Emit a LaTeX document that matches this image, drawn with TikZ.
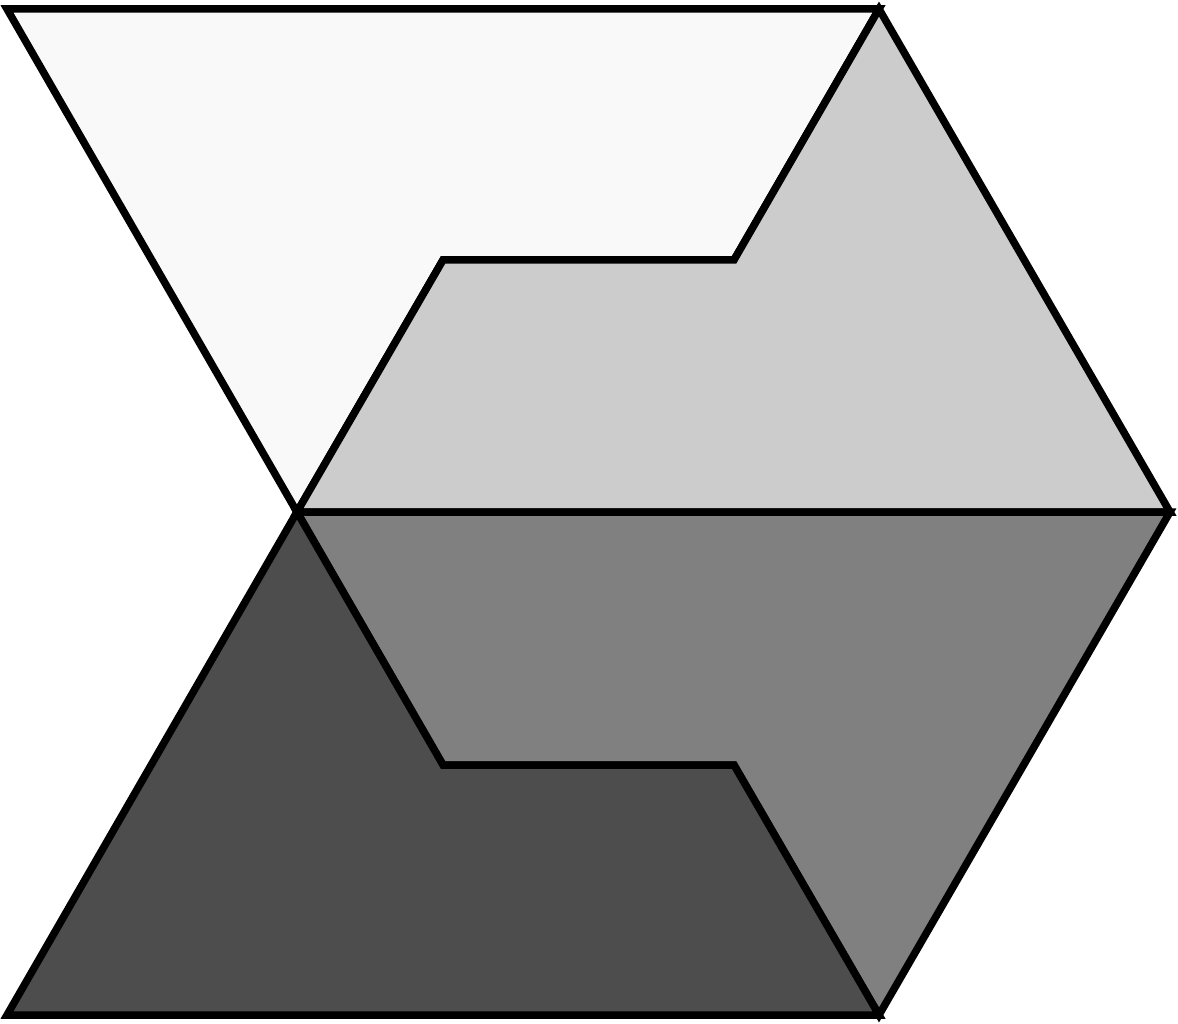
\documentclass[tikz,border=0pt]{standalone}
\begin{document}
\begin{tikzpicture}[x=1pt,y=-1pt,
  piece/.style={draw=black,line width=7.5pt,line join=miter}]
\useasboundingbox (0,0) rectangle (1178,1024);
\coordinate (TL) at (7,9);
\coordinate (TR) at (879,9);
\coordinate (R) at (1170,512);
\coordinate (C) at (297,512);
\coordinate (BL) at (7,1015);
\coordinate (BR) at (879,1015);
\coordinate (U1) at (443,260);
\coordinate (U2) at (734,260);
\coordinate (L1) at (443,765);
\coordinate (L2) at (734,765);
\filldraw[piece,fill={rgb,255:red,249;green,249;blue,249}] (TL) -- (TR) -- (U2) -- (U1) -- (C) -- cycle;
\filldraw[piece,fill={rgb,255:red,204;green,204;blue,204}] (C) -- (U1) -- (U2) -- (TR) -- (R) -- cycle;
\filldraw[piece,fill={rgb,255:red,128;green,128;blue,128}] (C) -- (R) -- (BR) -- (L2) -- (L1) -- cycle;
\filldraw[piece,fill={rgb,255:red,77;green,77;blue,77}] (C) -- (L1) -- (L2) -- (BR) -- (BL) -- cycle;
\end{tikzpicture}
\end{document}
